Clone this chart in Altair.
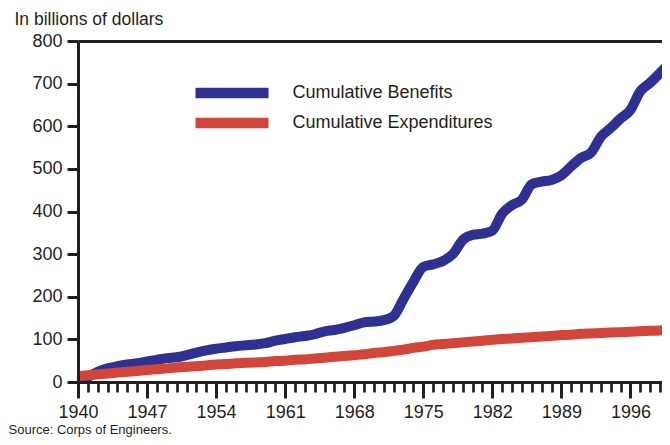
import altair as alt
import pandas as pd

# ---- data ----
years = list(range(1940, 2001))
benefits = [2, 12, 24, 32, 37, 41, 44, 48, 52, 56,
            58, 63, 69, 74, 78, 81, 84, 86, 88, 91,
            97, 101, 105, 108, 112, 119, 122, 127, 133, 140,
            142, 145, 155, 195, 235, 270, 276, 284, 300, 333,
            345, 348, 355, 395, 415, 428, 464, 470, 474, 485,
            506, 526, 538, 575, 596, 618, 638, 682, 702, 725,
            749]
expenditures = [14, 16, 18, 20, 22, 24, 26, 28, 30, 32,
                34, 36, 37, 39, 41, 42, 44, 45, 46, 47,
                49, 50, 52, 53, 55, 57, 59, 61, 63, 65,
                68, 70, 73, 76, 80, 83, 87, 89, 91, 93,
                95, 97, 99, 101, 102, 104, 105, 107, 108, 110,
                111, 113, 114, 115, 116, 117, 118, 119, 120, 121,
                122]
series_names = ["Cumulative Benefits", "Cumulative Expenditures"]
series_colors = ["#2E3192", "#D2453A"]
y_tick_values = list(range(0, 801, 100))
x_label_years = list(range(1940, 2000, 7))
x_minor_years = list(range(1940, 2000))
x_domain = [1940, 1999.2]   # the reference is cut off just before 2000
y_title = "In billions of dollars"
source_note = "Source: Corps of Engineers."

df = pd.DataFrame({
    "year": years + years,
    "value": benefits + expenditures,
    "series": [series_names[0]] * len(years) + [series_names[1]] * len(years),
})

FONT = "Liberation Sans"
INK = "#231F20"

x_scale = alt.Scale(domain=x_domain, nice=False, zero=False)
y_scale = alt.Scale(domain=[0, 800], nice=False)

lines = alt.Chart(df).mark_line(
    strokeWidth=10, strokeCap="butt", strokeJoin="round",
    interpolate="monotone", clip=True
).encode(
    x=alt.X("year:Q", scale=x_scale, axis=alt.Axis(
        orient="bottom", values=x_label_years, format="d",
        tickSize=16, tickWidth=3, domainWidth=3,
        labelFontSize=18, labelPadding=5, labelFlush=False,
        title=source_note, titleFontSize=13, titleFontWeight="normal",
        titleAlign="left", titleBaseline="alphabetic",
        titleX=-70, titleY=51, zindex=1)),
    y=alt.Y("value:Q", scale=y_scale, axis=alt.Axis(
        values=y_tick_values, tickSize=11, tickWidth=3, domainWidth=3,
        labelFontSize=18, labelPadding=5,
        title=y_title, titleAngle=0, titleFontSize=17.5, titleFontWeight="normal",
        titleAlign="left", titleBaseline="alphabetic",
        titleX=-64, titleY=-16.5, zindex=1)),
    color=alt.Color("series:N",
        scale=alt.Scale(domain=series_names, range=series_colors),
        legend=alt.Legend(
            title=None, orient="none", legendX=112, legendY=42,
            direction="vertical", symbolType="stroke", symbolSize=5329,
            symbolStrokeWidth=10.5, clipHeight=20, rowPadding=10,
            labelOffset=18.5, labelFontSize=18, labelFont=FONT,
            labelColor=INK, padding=0, labelLimit=0)),
)

minor = alt.Chart(pd.DataFrame({"year": x_minor_years})).mark_point(opacity=0).encode(
    x=alt.X("year:Q", scale=x_scale, axis=alt.Axis(
        orient="bottom", values=x_minor_years, labels=False, domain=False,
        tickSize=10, tickWidth=2.7, title=None, zindex=1)),
)

top_border = alt.Chart(pd.DataFrame({"year": x_domain})).mark_point(opacity=0).encode(
    x=alt.X("year:Q", scale=x_scale, axis=alt.Axis(
        orient="top", ticks=False, labels=False, domain=True, domainWidth=3,
        title=None, zindex=1)),
)

chart = alt.layer(lines, minor, top_border).resolve_axis(x="independent").properties(
    width=584, height=341,
    padding={"left": 70, "top": 33, "right": 0, "bottom": 55},
    autosize=alt.AutoSizeParams(type="none"),
).configure_view(
    stroke="transparent"
).configure_axis(
    labelFont=FONT, titleFont=FONT, labelColor=INK, titleColor=INK,
    domainColor=INK, tickColor=INK, grid=False
)

chart.save("out.html", embed_options={"renderer": "svg", "actions": False})
